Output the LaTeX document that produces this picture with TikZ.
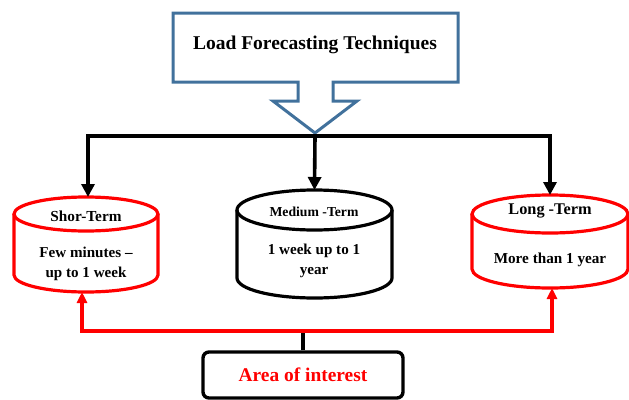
\documentclass[tikz,border=0pt]{standalone}
\usepackage{fontspec}
\setmainfont{Liberation Serif}
\usetikzlibrary{arrows.meta,positioning}
\definecolor{lfblue}{RGB}{65,113,156}

\begin{document}
\begin{tikzpicture}[x=1pt, y=-1pt, every node/.style={font=\bfseries, align=center}]
\tikzset{cylbox/.style={inner sep=0pt, outer sep=0pt}}
\tikzset{cyl/.style={line width=3.2pt}}
\tikzset{blk/.style={line width=3.6pt, -{Triangle[width=13pt,length=13pt]}}}
\tikzset{rd/.style={red, line width=3.4pt, -{Triangle[width=10pt,length=11pt]}}}
\useasboundingbox (0,0) rectangle (629,399);
\draw[lfblue, line width=3pt] (173,13) -- (458,13) -- (458,82) -- (333,82) -- (333,101) -- (357,101)
  -- (315,133) -- (273,101) -- (298,101) -- (298,82) -- (173,82) -- cycle;
\node[font=\bfseries\fontsize{19.5}{22}\selectfont] (lft) at (315,45) {Load Forecasting Techniques};
\coordinate (tip) at (315,136);
\node[cylbox, minimum width=144, minimum height=95] (st) at (86,244.5) {};
\draw[cyl, red] ([yshift=-17pt]st.north) ellipse (72pt and 17pt);
\draw[cyl, red] ([yshift=-17pt]st.north west) -- ([yshift=17pt]st.south west) arc (180:360:72pt and 17pt)
  -- ([yshift=-17pt]st.north east);
\node[cylbox, minimum width=155, minimum height=108] (mt) at (314.5,244) {};
\draw[cyl] ([yshift=-20pt]mt.north) ellipse (77.5pt and 20pt);
\draw[cyl] ([yshift=-20pt]mt.north west) -- ([yshift=20pt]mt.south west) arc (180:360:77.5pt and 20pt)
  -- ([yshift=-20pt]mt.north east);
\node[cylbox, minimum width=156, minimum height=93] (lt) at (550,241.5) {};
\draw[cyl, red] ([yshift=-19pt]lt.north) ellipse (78pt and 19pt);
\draw[cyl, red] ([yshift=-19pt]lt.north west) -- ([yshift=19pt]lt.south west) arc (180:360:78pt and 19pt)
  -- ([yshift=-19pt]lt.north east);
\node[font=\bfseries\fontsize{15.3}{17}\selectfont] (sth) at (86,216) {Shor-Term};
\node[font=\bfseries\fontsize{15.1}{20}\selectfont] (stb) at (86,263.5) {Few minutes --\\up to 1 week};
\node[font=\bfseries\fontsize{13.7}{15}\selectfont] (mth) at (314,212) {Medium -Term};
\node[font=\bfseries\fontsize{15.1}{20}\selectfont] (mtb) at (314,261) {1 week up to 1\\year};
\node[font=\bfseries\fontsize{16.3}{18}\selectfont] (lth) at (550,211) {Long -Term};
\node[font=\bfseries\fontsize{15.2}{17}\selectfont] (ltb) at (550,260) {More than 1 year};
\draw[blk] (tip) -| ([xshift=2pt]st.north);
\draw[blk] (tip) -| (lt.north);
\draw[blk] (tip) -- (mt.north);
\node[draw, rounded corners=6pt, line width=3.4pt, minimum width=200, minimum height=46,
  text=red, font=\bfseries\fontsize{19.4}{21}\selectfont] (aoi) at (303,375) {Area of interest};
\coordinate (k) at (303,331);
\draw[line width=3.4pt] (aoi.north) -- (k);
\draw[rd] (k) -| ([xshift=-4pt]st.south);
\draw[rd] (k) -| ([xshift=2pt]lt.south);
\end{tikzpicture}
\end{document}
